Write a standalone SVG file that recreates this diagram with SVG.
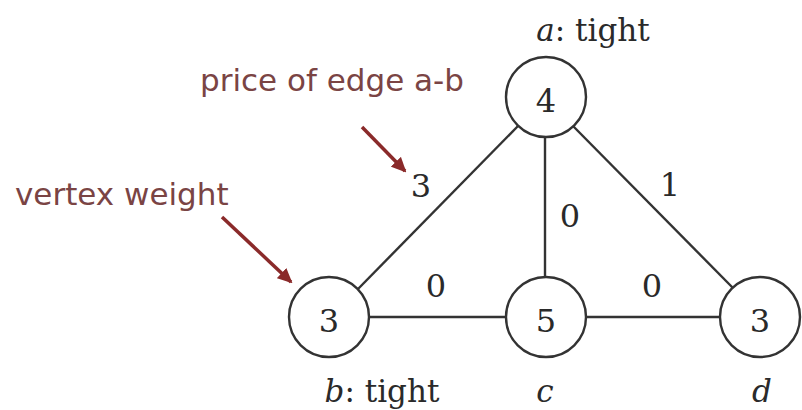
<svg xmlns="http://www.w3.org/2000/svg" width="802" height="410" viewBox="0 0 802 410">
<style>
.node circle{fill:#fff;stroke:#333;stroke-width:2.4}
.num{font-family:"DejaVu Serif",serif;font-size:32px;fill:#2a2a2a;text-anchor:middle}
.lbl{font-family:"DejaVu Serif",serif;font-size:31px;fill:#2a2a2a;text-anchor:middle}
.it{font-style:italic}
.edge line{stroke:#333;stroke-width:2.4}
.note{font-family:"DejaVu Sans",sans-serif;font-size:31px;fill:#7a4444}
.edge line.arr{stroke:#8a2a2a;stroke-width:3.5;fill:none}
</style>
<defs>
<marker id="ah" markerWidth="15" markerHeight="14" refX="13" refY="7" orient="auto" markerUnits="userSpaceOnUse" viewBox="0 0 15 14">
<path d="M0,0 L15,7 L0,14 z" fill="#8a2a2a"/>
</marker>
</defs>
<g id="connectors" class="edge">
<line x1="518" y1="126" x2="358" y2="289"/>
<line x1="573" y1="126" x2="733" y2="288"/>
<line x1="545" y1="137" x2="545" y2="277"/>
<line x1="370" y1="317" x2="506" y2="317"/>
<line x1="585" y1="317" x2="720" y2="317"/>
<line class="arr" x1="362" y1="127" x2="405" y2="171" marker-end="url(#ah)"/>
<line class="arr" x1="222" y1="217" x2="291" y2="282" marker-end="url(#ah)"/>
</g>
<g id="edge-labels">
<text class="num" x="421" y="197">3</text>
<text class="num" x="670" y="196">1</text>
<text class="num" x="570" y="227">0</text>
<text class="num" x="436" y="297">0</text>
<text class="num" x="652" y="297">0</text>
</g>
<g id="node-a" class="node">
<circle cx="546" cy="97" r="40"/>
<text class="num" x="546" y="112">4</text>
<text class="lbl" x="593" y="41"><tspan class="it">a</tspan>: tight</text>
</g>
<g id="node-b" class="node">
<circle cx="329" cy="317" r="40"/>
<text class="num" x="329" y="332">3</text>
<text class="lbl" x="382" y="402"><tspan class="it">b</tspan>: tight</text>
</g>
<g id="node-c" class="node">
<circle cx="546" cy="317" r="40"/>
<text class="num" x="546" y="332">5</text>
<text class="lbl it" x="545" y="402">c</text>
</g>
<g id="node-d" class="node">
<circle cx="760" cy="317" r="40"/>
<text class="num" x="760" y="332">3</text>
<text class="lbl it" x="762" y="402">d</text>
</g>
<g id="notes">
<text class="note" x="200" y="91">price of edge a-b</text>
<text class="note" x="15" y="205">vertex weight</text>
</g>
</svg>
